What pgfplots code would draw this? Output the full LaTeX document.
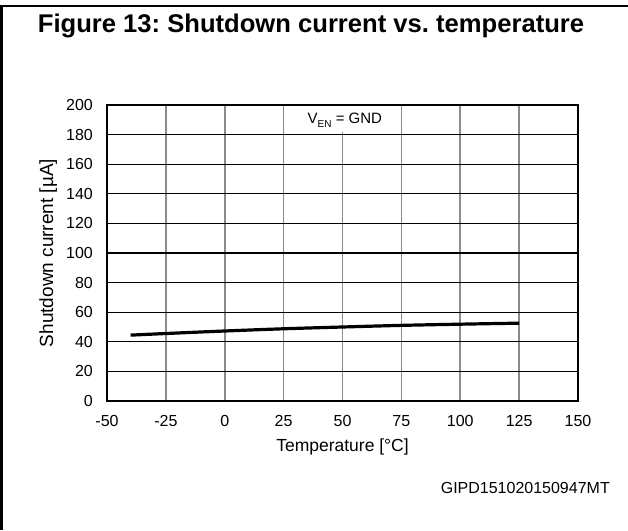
\documentclass[border=0pt]{standalone}
\usepackage{fontspec}
\setmainfont{Liberation Sans}
\usepackage{pgfplots}
\pgfplotsset{compat=1.18}
\definecolor{gridgray}{RGB}{140,140,140}
\begin{document}
\frenchspacing
\begin{tikzpicture}[x=1pt,y=1pt]
\useasboundingbox (0,0) rectangle (628,530);
\draw[line width=2.6pt] (1.3,0) -- (1.3,524) -- (628,524);
\node[anchor=base,inner sep=0pt,font=\fontsize{25.6}{31}\selectfont\bfseries] at (311,497) {Figure 13: Shutdown current vs. temperature};
\node[anchor=base east,inner sep=0pt,font=\fontsize{16}{19}\selectfont] at (610,37) {GIPD151020150947MT};
\begin{axis}[
  at={(107pt,129pt)}, anchor=south west,
  scale only axis, width=471pt, height=296pt,
  xmin=-50, xmax=150, ymin=0, ymax=200,
  xtick={-50,-25,0,25,50,75,100,125,150},
  xticklabels={-50,-25,0,25,50,75,100,125,150},
  ytick={0,20,40,60,80,100,120,140,160,180,200},
  yticklabels={0,20,40,60,80,100,120,140,160,180,200},
  major tick length=0pt,
  tick style={draw=none},
  ticklabel style={font=\fontsize{16}{19}\selectfont},
  xticklabel style={inner sep=0pt, anchor=north, yshift=-14pt},
  yticklabel style={inner sep=0pt, anchor=east, xshift=-14pt},
  xmajorgrids, ymajorgrids,
  x grid style={gridgray, line width=1.7pt},
  y grid style={black, line width=1.3pt},
  axis line style={black, line width=1.7pt},
  xlabel={Temperature [°C]},
  ylabel={Shutdown current [µA]},
  xlabel style={font=\fontsize{17.5}{21}\selectfont,
    at={(axis description cs:0.5,-0.172)}, anchor=base, inner sep=0pt},
  ylabel style={font=\fontsize{19}{23}\selectfont,
    at={(axis description cs:-0.1146,0.5)}, anchor=base, rotate=0, inner sep=0pt},
]
\fill[white] (axis cs:27,181.6) rectangle (axis cs:73,199);
\node[anchor=base, inner sep=0pt, font=\fontsize{15}{18}\selectfont] at (axis cs:51,187.2) {V\raisebox{-0.45ex}{\fontsize{10}{12}\selectfont EN} = GND};
\addplot[black, line width=3.2pt, smooth] coordinates {
  (-40,44.5) (-25,45.6) (0,47.3) (25,48.8) (50,50.0) (75,51.1) (100,51.9) (125,52.6)
};
\end{axis}
\end{tikzpicture}
\end{document}
